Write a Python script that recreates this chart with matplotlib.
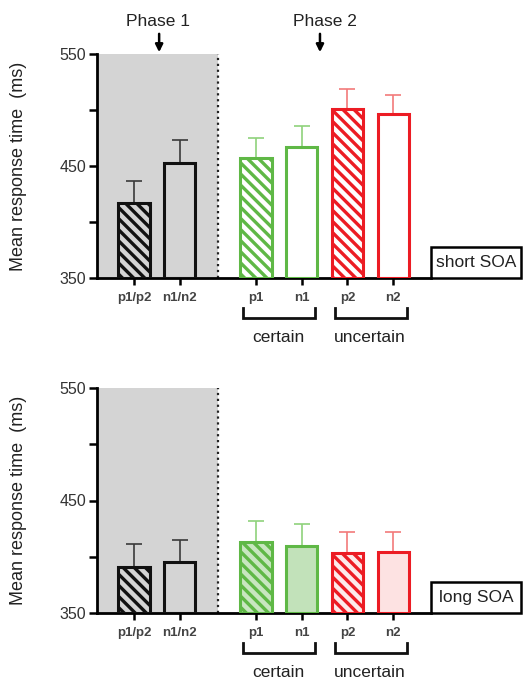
import numpy as np
from matplotlib import pyplot as plt
from matplotlib.patches import Rectangle

plt.rcParams['font.family'] = ['Liberation Sans', 'DejaVu Sans']
plt.rcParams['hatch.linewidth'] = 2.4

# conditions (bar order)
labels = ['p1/p2', 'n1/n2', 'p1', 'n1', 'p2', 'n2']
positions = [0, 1, 2.67, 3.67, 4.67, 5.67]

# mean response time (ms) and upper error (ms)
short_means = [417, 453, 457, 467, 501, 496]
short_errs = [20, 20, 18, 19, 18, 17]
long_means = [391, 395, 413, 410, 403, 404]
long_errs = [20, 20, 19, 19, 19, 18]

panel_names = ['short SOA', 'long SOA']

black, green, red = '#111111', '#5fb846', '#ec1c24'
edge_colors = [black, black, green, green, red, red]
err_colors = ['#3a3a3a', '#3a3a3a', '#8fd27c', '#8fd27c', '#f27a7a', '#f27a7a']
hatches = ['\\\\\\', '', '\\\\\\', '', '\\\\\\', '']
short_faces = ['none', 'none', 'white', 'white', 'white', 'white']
long_faces = ['none', 'none', '#c8e6c0', '#c2e2ba', '#fdeaea', '#fde2e2']

W, H = 524, 681
fig = plt.figure(figsize=(W / 100, H / 100), dpi=100)
ax_top = fig.add_axes([97 / W, 1 - 278 / H, 334 / W, 224 / H])
ax_bot = fig.add_axes([97 / W, 1 - 613 / H, 334 / W, 225 / H])

xlim = (-0.81, 6.5)
split = 1.84


def draw_panel(ax, means, errs, faces, name):
    ax.set_xlim(*xlim)
    ax.set_ylim(350, 550)
    ax.axvspan(xlim[0], split, color='#d4d4d4', zorder=0, lw=0)
    ax.axvline(split, ls=':', color='#222222', lw=1.6, zorder=1)

    for x, m, e, c in zip(positions, means, errs, err_colors):
        ax.errorbar([x], [m], yerr=[[0], [e]], fmt='none', ecolor=c,
                    elinewidth=1.2, capsize=5.5, capthick=1.2, zorder=2)
    bars = ax.bar(positions, [m - 350 for m in means], bottom=350, width=0.68,
                  color=faces, edgecolor=edge_colors, linewidth=2.2, zorder=3)
    for b, h in zip(bars, hatches):
        b.set_hatch(h)

    for s in ['top', 'right']:
        ax.spines[s].set_visible(False)
    ax.spines['left'].set_linewidth(2)
    ax.spines['bottom'].set_linewidth(2)

    ax.set_yticks([350, 450, 550])
    ax.set_yticks([400, 500], minor=True)
    ax.tick_params(axis='y', which='both', length=6, width=1.8, labelsize=11.5,
                   labelcolor='#333333', pad=2)
    ax.set_xticks(positions)
    ax.set_xticklabels(labels, fontsize=9.5, fontweight='bold', color='#444444')
    ax.tick_params(axis='x', length=5, width=1.8, pad=5)

    ax.set_ylabel('Mean response time  (ms)', fontsize=13, color='#222222')
    ax.yaxis.set_label_coords(-0.21, 0.5)

    # condition box at the right end of the axis
    ax.add_patch(Rectangle((1.0, 0), 0.27, 0.138, transform=ax.transAxes,
                           fill=True, fc='white', ec='black', lw=1.8, clip_on=False))
    ax.text(1.135, 0.069, name, transform=ax.transAxes, ha='center', va='center',
            fontsize=12.5, color='#222222')

    # certain / uncertain brackets
    trans = ax.get_xaxis_transform()
    for (a, b), word in [((positions[2], positions[3]), 'certain'),
                         ((positions[4], positions[5]), 'uncertain')]:
        xs = [a - 0.28, a - 0.28, b + 0.3, b + 0.3]
        ax.plot(xs, [-0.135, -0.178, -0.178, -0.135], color='#111111', lw=2,
                transform=trans, clip_on=False, solid_joinstyle='miter')
        ax.text((a + b) / 2, -0.265, word, transform=trans, ha='center', va='center',
                fontsize=12.5, color='#222222')


draw_panel(ax_top, short_means, short_errs, short_faces, panel_names[0])
draw_panel(ax_bot, long_means, long_errs, long_faces, panel_names[1])

# phase markers above the top panel
trans = ax_top.get_xaxis_transform()
for txt, xt, xa in [('Phase 1', 0.53, 0.55), ('Phase 2', 4.18, 4.07)]:
    ax_top.text(xt, 1.143, txt, transform=trans, ha='center', va='center',
                fontsize=12.5, color='#222222')
    ax_top.annotate('', xy=(xa, 1.008), xytext=(xa, 1.09), xycoords=trans,
                    textcoords=trans,
                    arrowprops=dict(arrowstyle='-|>', lw=1.8, color='black',
                                    mutation_scale=11, shrinkA=0, shrinkB=0))

fig.savefig('out.png', dpi=100)
